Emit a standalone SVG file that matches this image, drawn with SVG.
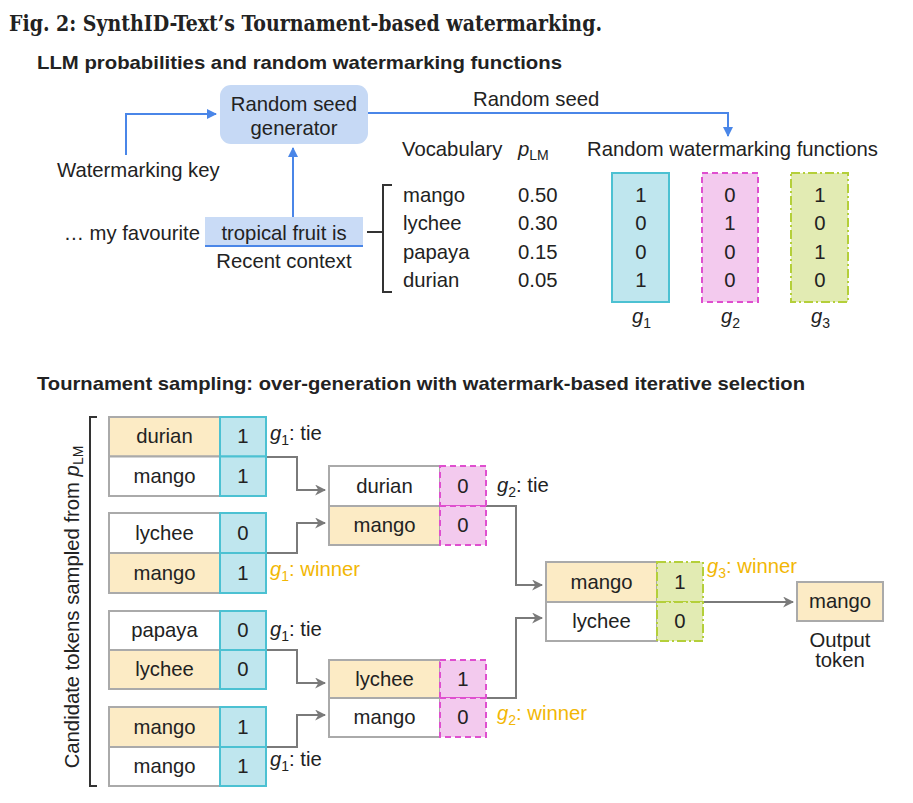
<svg xmlns="http://www.w3.org/2000/svg" width="913" height="803" viewBox="0 0 913 803">
<style>
text{font-family:"Liberation Sans",Arial,sans-serif;font-size:20.3px;fill:#222}
.c{text-anchor:middle}
.it{font-style:italic}
.yl{fill:#f2b705}
.blue{fill:none;stroke:#4a86e8;stroke-width:2}
.grey{fill:none;stroke:#7a7a7a;stroke-width:2}
.brk{fill:none;stroke:#333;stroke-width:2}
.w{fill:#fff;stroke:#aaa;stroke-width:2}
.y{fill:#fcebc5;stroke:#aaa;stroke-width:2}
.g1{fill:#bfe6ee;stroke:#4cc1d2;stroke-width:2}
.g2{fill:#f3caee;stroke:#df4fcf;stroke-width:2;stroke-dasharray:6 4}
.g3{fill:#e2ebb3;stroke:#b4cf3a;stroke-width:2;stroke-dasharray:9 3 2 3}
</style>
<defs>
<marker id="ab" viewBox="0 0 10 10" refX="9" refY="5" markerWidth="10" markerHeight="10" markerUnits="userSpaceOnUse" orient="auto"><path d="M0,0 L10,5 L0,10 Z" fill="#4a86e8"/></marker>
<marker id="ag" viewBox="0 0 10 10" refX="9" refY="5" markerWidth="11" markerHeight="11" markerUnits="userSpaceOnUse" orient="auto"><path d="M0,0 L10,5 L0,10 L3,5 Z" fill="#7a7a7a"/></marker>
</defs>

<text x="9" y="31" style="font-family:'DejaVu Serif Condensed','Liberation Serif',serif;font-weight:bold;font-size:22px" textLength="593" lengthAdjust="spacingAndGlyphs">Fig. 2: SynthID-Text’s Tournament-based watermarking.</text>
<text x="37" y="69" style="font-weight:bold;font-size:18.5px" textLength="525" lengthAdjust="spacingAndGlyphs">LLM probabilities and random watermarking functions</text>

<g id="connectors">
<path class="blue" d="M126,155 V114 H216" marker-end="url(#ab)"/>
<path class="blue" d="M293,217 V148" marker-end="url(#ab)"/>
<path class="blue" d="M368,113 H728 V136" marker-end="url(#ab)"/>
<path class="brk" d="M367,232 H383 M392,185 H383 V292 H392"/>
<path class="grey" d="M266,457 H297 V490 H325" marker-end="url(#ag)"/>
<path class="grey" d="M266,553 H297 V523 H325" marker-end="url(#ag)"/>
<path class="grey" d="M266,650 H297 V683 H325" marker-end="url(#ag)"/>
<path class="grey" d="M266,747 H297 V715 H325" marker-end="url(#ag)"/>
<path class="grey" d="M486,506 H516 V585 H542" marker-end="url(#ag)"/>
<path class="grey" d="M486,698 H516 V618 H542" marker-end="url(#ag)"/>
<path class="grey" d="M703,602 H793" marker-end="url(#ag)"/>
<path class="brk" d="M97,417 H90 V786 H97"/>
</g>

<g id="seed-generator">
<rect x="220" y="85" width="148" height="59" rx="11" fill="#c6d9f5"/>
<text class="c" x="294" y="111">Random seed</text>
<text class="c" x="294" y="135">generator</text>
</g>
<g id="watermarking-key"><text x="57" y="177">Watermarking key</text></g>
<g id="random-seed-label"><text x="473" y="106">Random seed</text></g>
<g id="context">
<text x="200" y="240" text-anchor="end">… my favourite</text>
<rect x="205" y="217" width="158" height="29" fill="#c9dbf6"/>
<line x1="205" y1="246" x2="363" y2="246" stroke="#4a86e8" stroke-width="2"/>
<text class="c" x="284" y="240">tropical fruit is</text>
<text class="c" x="284" y="268">Recent context</text>
</g>
<g id="vocabulary">
<text x="402" y="156">Vocabulary</text>
<text x="518" y="156"><tspan class="it">p</tspan><tspan font-size="14" dy="4">LM</tspan></text>
<text x="403" y="202">mango</text><text x="518" y="202">0.50</text>
<text x="403" y="230">lychee</text><text x="518" y="230">0.30</text>
<text x="403" y="259">papaya</text><text x="518" y="259">0.15</text>
<text x="403" y="287">durian</text><text x="518" y="287">0.05</text>
</g>
<g id="watermarking-functions">
<text x="587" y="156">Random watermarking functions</text>
<rect class="g1" x="612" y="173" width="57" height="129"/>
<rect class="g2" x="702" y="173" width="56" height="129"/>
<rect class="g3" x="791" y="173" width="57" height="129"/>
<text class="c" x="641" y="202">1</text><text class="c" x="641" y="230">0</text><text class="c" x="641" y="259">0</text><text class="c" x="641" y="287">1</text>
<text class="c" x="730" y="202">0</text><text class="c" x="730" y="230">1</text><text class="c" x="730" y="259">0</text><text class="c" x="730" y="287">0</text>
<text class="c" x="820" y="202">1</text><text class="c" x="820" y="230">0</text><text class="c" x="820" y="259">1</text><text class="c" x="820" y="287">0</text>
<text x="632" y="323"><tspan class="it">g</tspan><tspan font-size="14" dy="5">1</tspan></text>
<text x="721" y="323"><tspan class="it">g</tspan><tspan font-size="14" dy="5">2</tspan></text>
<text x="811" y="323"><tspan class="it">g</tspan><tspan font-size="14" dy="5">3</tspan></text>
</g>

<text x="37" y="390" style="font-weight:bold;font-size:18.5px" textLength="768" lengthAdjust="spacingAndGlyphs">Tournament sampling: over-generation with watermark-based iterative selection</text>

<g id="candidate-label">
<text class="c" transform="translate(79,607) rotate(-90)">Candidate tokens sampled from <tspan class="it">p</tspan><tspan font-size="14" dy="4">LM</tspan></text>
</g>

<g id="pair1">
<rect class="y" x="109" y="417" width="111" height="39.5"/><rect class="w" x="109" y="456.5" width="111" height="39.5"/>
<rect class="g1" x="220" y="417" width="46" height="39.5"/><rect class="g1" x="220" y="456.5" width="46" height="39.5"/>
<text class="c" x="164.5" y="443">durian</text><text class="c" x="243" y="443">1</text>
<text class="c" x="164.5" y="483">mango</text><text class="c" x="243" y="483">1</text>
<text x="270" y="440"><tspan class="it">g</tspan><tspan font-size="14" dy="5">1</tspan><tspan dy="-5">: tie</tspan></text>
</g>
<g id="pair2">
<rect class="w" x="109" y="513" width="111" height="40"/><rect class="y" x="109" y="553" width="111" height="40"/>
<rect class="g1" x="220" y="513" width="46" height="40"/><rect class="g1" x="220" y="553" width="46" height="40"/>
<text class="c" x="164.5" y="540">lychee</text><text class="c" x="243" y="540">0</text>
<text class="c" x="164.5" y="580">mango</text><text class="c" x="243" y="580">1</text>
<text x="270" y="576" class="yl"><tspan class="it">g</tspan><tspan font-size="14" dy="5">1</tspan><tspan dy="-5">: winner</tspan></text>
</g>
<g id="pair3">
<rect class="w" x="109" y="611" width="111" height="39"/><rect class="y" x="109" y="650" width="111" height="39"/>
<rect class="g1" x="220" y="611" width="46" height="39"/><rect class="g1" x="220" y="650" width="46" height="39"/>
<text class="c" x="164.5" y="637">papaya</text><text class="c" x="243" y="637">0</text>
<text class="c" x="164.5" y="676">lychee</text><text class="c" x="243" y="676">0</text>
<text x="270" y="636"><tspan class="it">g</tspan><tspan font-size="14" dy="5">1</tspan><tspan dy="-5">: tie</tspan></text>
</g>
<g id="pair4">
<rect class="y" x="109" y="707" width="111" height="40"/><rect class="w" x="109" y="747" width="111" height="39"/>
<rect class="g1" x="220" y="707" width="46" height="40"/><rect class="g1" x="220" y="747" width="46" height="39"/>
<text class="c" x="164.5" y="734">mango</text><text class="c" x="243" y="734">1</text>
<text class="c" x="164.5" y="773">mango</text><text class="c" x="243" y="773">1</text>
<text x="270" y="766"><tspan class="it">g</tspan><tspan font-size="14" dy="5">1</tspan><tspan dy="-5">: tie</tspan></text>
</g>
<g id="round2-a">
<rect class="w" x="329" y="466" width="111" height="40"/><rect class="y" x="329" y="506" width="111" height="39"/>
<rect class="g2" x="440" y="466" width="46" height="40"/><rect class="g2" x="440" y="506" width="46" height="39"/>
<text class="c" x="384.5" y="493">durian</text><text class="c" x="463" y="493">0</text>
<text class="c" x="384.5" y="532">mango</text><text class="c" x="463" y="532">0</text>
<text x="497" y="492"><tspan class="it">g</tspan><tspan font-size="14" dy="5">2</tspan><tspan dy="-5">: tie</tspan></text>
</g>
<g id="round2-b">
<rect class="y" x="329" y="660" width="111" height="38"/><rect class="w" x="329" y="698" width="111" height="39"/>
<rect class="g2" x="440" y="660" width="46" height="38"/><rect class="g2" x="440" y="698" width="46" height="39"/>
<text class="c" x="384.5" y="686">lychee</text><text class="c" x="463" y="686">1</text>
<text class="c" x="384.5" y="724">mango</text><text class="c" x="463" y="724">0</text>
<text x="497" y="720" class="yl"><tspan class="it">g</tspan><tspan font-size="14" dy="5">2</tspan><tspan dy="-5">: winner</tspan></text>
</g>
<g id="round3">
<rect class="y" x="546" y="562" width="111" height="40"/><rect class="w" x="546" y="602" width="111" height="39"/>
<rect class="g3" x="657" y="562" width="46" height="40"/><rect class="g3" x="657" y="602" width="46" height="39"/>
<text class="c" x="601.5" y="589">mango</text><text class="c" x="680" y="589">1</text>
<text class="c" x="601.5" y="628">lychee</text><text class="c" x="680" y="628">0</text>
<text x="707" y="573" class="yl"><tspan class="it">g</tspan><tspan font-size="14" dy="5">3</tspan><tspan dy="-5">: winner</tspan></text>
</g>
<g id="output">
<rect class="y" x="797" y="582" width="86" height="39"/>
<text class="c" x="840" y="608">mango</text>
<text class="c" x="840" y="647">Output</text>
<text class="c" x="840" y="667">token</text>
</g>
</svg>
